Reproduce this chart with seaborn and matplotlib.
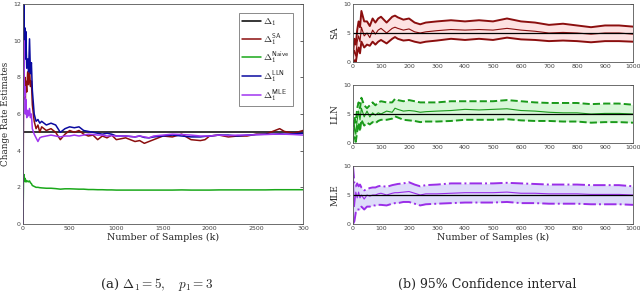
import numpy as np
import pandas as pd
import matplotlib
matplotlib.use("Agg")
import matplotlib.pyplot as plt
import seaborn as sns

# ---- left panel data (estimates vs samples) ----
k_left = [0, 5, 10, 15, 20, 25, 30, 40, 50, 60, 70, 80, 90, 100, 120, 140, 160, 180, 200,
          250, 300, 350, 400, 450, 500, 550, 600, 650, 700, 750, 800, 850, 900, 950, 1000,
          1100, 1200, 1250, 1300, 1350, 1400, 1500, 1600, 1700, 1800, 1900, 1950, 2000,
          2100, 2200, 2300, 2400, 2500, 2600, 2700, 2750, 2800, 2900, 3000]
true_delta = [5, 5]
true_k = [0, 3000]
est_sa = [0, 6.5, 9.8, 7.0, 8.0, 6.8, 7.8, 7.2, 8.3, 7.6, 8.4, 7.5, 7.8, 6.5, 5.6, 5.2, 5.4, 5.0, 5.3,
          5.1, 5.2, 5.0, 4.6, 4.9, 5.1, 5.0, 5.1, 4.9, 4.8, 4.85, 4.6, 4.8, 4.7, 4.85, 4.6,
          4.7, 4.5, 4.55, 4.4, 4.5, 4.6, 4.8, 4.75, 4.9, 4.6, 4.55, 4.6, 4.8,
          4.85, 4.75, 4.8, 4.8, 4.9, 4.9, 5.1, 5.2, 5.05, 4.95, 5.1]
est_naive = [0, 2.2, 2.7, 2.4, 2.5, 2.3, 2.4, 2.3, 2.35, 2.3, 2.35, 2.25, 2.2, 2.1, 2.05, 2.0, 2.0, 1.98, 1.97,
             1.95, 1.95, 1.93, 1.9, 1.92, 1.92, 1.91, 1.9, 1.9, 1.88, 1.88, 1.87, 1.87, 1.86, 1.86, 1.85,
             1.85, 1.85, 1.85, 1.85, 1.85, 1.85, 1.85, 1.85, 1.86, 1.85, 1.85, 1.85, 1.85,
             1.86, 1.86, 1.86, 1.86, 1.86, 1.86, 1.87, 1.87, 1.87, 1.87, 1.87]
est_lln = [0, 9.0, 12.0, 10.0, 10.7, 9.0, 10.5, 8.5, 9.0, 8.3, 10.1, 8.2, 8.8, 7.3, 6.0, 5.6, 5.7, 5.5, 5.6,
           5.4, 5.5, 5.4, 5.0, 5.2, 5.3, 5.25, 5.3, 5.1, 5.05, 5.0, 4.95, 4.9, 4.95, 4.9, 4.8,
           4.8, 4.75, 4.8, 4.72, 4.7, 4.75, 4.8, 4.85, 4.8, 4.75, 4.75, 4.78, 4.8,
           4.85, 4.85, 4.8, 4.85, 4.88, 4.9, 4.9, 4.92, 4.9, 4.92, 4.95]
est_mle = [0, 8.5, 10.0, 7.0, 7.5, 6.0, 6.8, 5.8, 6.2, 5.9, 6.3, 5.8, 6.0, 5.2, 4.9, 4.7, 4.5, 4.7, 4.75,
           4.8, 4.85, 4.8, 4.75, 4.8, 4.8, 4.85, 4.8, 4.85, 4.9, 4.88, 4.85, 4.85, 4.8, 4.82, 4.8,
           4.8, 4.75, 4.8, 4.75, 4.7, 4.8, 4.85, 4.9, 4.88, 4.85, 4.8, 4.8, 4.8,
           4.85, 4.82, 4.85, 4.85, 4.87, 4.88, 4.9, 4.9, 4.9, 4.88, 4.85]

# ---- right panels data (confidence intervals) ----
k_right = [0, 5, 10, 15, 20, 25, 30, 40, 50, 60, 70, 80, 90, 100, 120, 140, 150, 160, 180, 200,
           220, 240, 260, 300, 350, 400, 450, 500, 550, 600, 650, 700, 750, 800, 850, 900, 950, 1000]
sa_mean = [0.5, 2.0, 1.0, 3.5, 4.5, 3.5, 6.0, 4.5, 5.0, 4.2, 5.5, 4.8, 5.5, 5.8, 5.0, 5.8, 6.0, 5.8, 5.5, 5.7,
           5.2, 5.0, 5.2, 5.4, 5.6, 5.5, 5.6, 5.5, 5.8, 5.5, 5.3, 5.0, 5.1, 5.0, 4.8, 5.0, 5.0, 4.8]
sa_upper = [1.5, 4.0, 3.0, 5.5, 7.0, 6.0, 8.8, 7.0, 7.0, 6.2, 7.5, 6.8, 7.5, 7.8, 6.8, 7.8, 8.0, 7.7, 7.3, 7.5,
            6.8, 6.5, 6.8, 7.0, 7.2, 7.0, 7.2, 7.0, 7.5, 7.0, 6.8, 6.4, 6.6, 6.3, 6.0, 6.3, 6.3, 6.1]
sa_lower = [0, 0.3, 0, 1.5, 2.5, 1.5, 3.5, 2.5, 3.0, 2.8, 3.5, 3.0, 3.5, 3.8, 3.2, 4.0, 4.3, 4.0, 3.7, 3.8,
            3.5, 3.3, 3.5, 3.7, 4.0, 3.8, 4.0, 3.8, 4.2, 3.9, 3.8, 3.6, 3.7, 3.6, 3.4, 3.6, 3.6, 3.5]
lln_mean = [0.5, 3.0, 1.5, 4.0, 5.5, 4.0, 6.0, 4.5, 5.5, 4.5, 5.2, 4.8, 5.2, 5.0, 5.5, 5.3, 6.0, 5.8, 5.5, 5.6,
            5.5, 5.3, 5.4, 5.5, 5.6, 5.8, 5.7, 5.8, 5.9, 5.6, 5.5, 5.3, 5.2, 5.2, 5.0, 5.1, 5.1, 5.0]
lln_upper = [1.0, 4.5, 3.5, 6.0, 7.0, 6.0, 7.8, 6.5, 6.0, 6.5, 7.0, 6.5, 7.0, 7.2, 7.0, 7.0, 7.6, 7.4, 7.2, 7.4,
             7.2, 7.0, 7.0, 7.0, 7.2, 7.2, 7.2, 7.2, 7.4, 7.2, 7.0, 6.9, 6.9, 6.9, 6.7, 6.8, 6.8, 6.6]
lln_lower = [0, 1.0, 0.2, 2.0, 3.5, 2.0, 4.0, 3.0, 3.5, 3.2, 3.6, 3.4, 3.8, 4.0, 4.0, 4.2, 4.6, 4.4, 4.0, 3.9,
             3.8, 3.6, 3.7, 3.7, 3.8, 4.0, 4.0, 4.0, 4.1, 3.9, 3.8, 3.8, 3.7, 3.7, 3.5, 3.6, 3.6, 3.5]
mle_mean = [9.0, 3.0, 5.5, 4.5, 5.5, 4.5, 5.0, 4.3, 5.0, 4.8, 5.0, 5.0, 5.2, 5.3, 5.0, 5.3, 5.4, 5.4, 5.5, 5.6,
            5.3, 5.0, 5.2, 5.2, 5.3, 5.4, 5.4, 5.4, 5.5, 5.3, 5.3, 5.2, 5.2, 5.2, 5.1, 5.1, 5.1, 5.0]
mle_upper = [10, 7.0, 6.5, 7.0, 6.5, 6.8, 6.3, 5.8, 6.0, 6.2, 6.3, 6.3, 6.5, 6.6, 6.4, 6.7, 6.8, 6.9, 7.0, 7.2,
             6.8, 6.5, 6.7, 6.8, 7.0, 7.0, 7.0, 7.0, 7.1, 7.0, 6.9, 6.8, 6.8, 6.8, 6.7, 6.7, 6.7, 6.5]
mle_lower = [0, 0.5, 2.0, 2.5, 2.5, 2.5, 3.0, 2.5, 3.0, 3.0, 3.2, 3.2, 3.3, 3.3, 3.2, 3.5, 3.6, 3.6, 3.8, 3.8,
             3.5, 3.2, 3.4, 3.5, 3.6, 3.7, 3.7, 3.7, 3.8, 3.6, 3.6, 3.5, 3.5, 3.5, 3.4, 3.4, 3.4, 3.3]

sns.set_theme(style="white")
plt.rcParams['mathtext.fontset'] = 'cm'
serif = 'DejaVu Serif'

fig = plt.figure(figsize=(6.4, 2.92), dpi=100)


def style_axes(ax):
    ax.tick_params(direction='in', length=2, labelsize=4.5, labelcolor='#444444',
                   top=False, right=True, pad=1.5, width=0.5)
    for s in ax.spines.values():
        s.set_color('#555555')
        s.set_linewidth(0.6)


# ---- left plot ----
axl = fig.add_axes([23 / 640, 1 - 224 / 292, 280 / 640, 220 / 292])
left_series = [
    (true_k, true_delta, 'black', r'$\Delta_1$'),
    (k_left, est_sa, '#8b0e0e', r'$\Delta_1^{\mathsf{SA}}$'),
    (k_left, est_naive, '#1aa81a', r'$\Delta_1^{\mathsf{Naive}}$'),
    (k_left, est_lln, '#0a0aa0', r'$\Delta_1^{\mathsf{LLN}}$'),
    (k_left, est_mle, '#a035f0', r'$\Delta_1^{\mathsf{MLE}}$'),
]
for xs, ys, col, lab in left_series:
    sns.lineplot(x=xs, y=ys, ax=axl, color=col, lw=1.1, label=lab, estimator=None, sort=False)
axl.set_xlim(0, 3000)
axl.set_ylim(0, 12)
axl.set_xticks(np.arange(0, 3001, 500))
axl.set_xticklabels(['0', '500', '1000', '1500', '2000', '2500', '300'])
axl.set_yticks(np.arange(0, 13, 2))
axl.set_xlabel('Number of Samples (k)', family=serif, fontsize=6.8, labelpad=1)
axl.set_ylabel('Change Rate Estimates', family=serif, fontsize=6.3, labelpad=2)
style_axes(axl)
leg = axl.legend(loc='upper right', fontsize=7, frameon=True, fancybox=False,
                 edgecolor='#555555', handlelength=2.0, labelspacing=0.3,
                 borderpad=0.3, handletextpad=0.2, bbox_to_anchor=(0.98, 0.98))
leg.get_frame().set_linewidth(0.6)

# ---- right plots ----
panels = [
    ('SA', sa_mean, sa_lower, sa_upper, '#8b0e0e', '#fde2e2', '-', 4),
    ('LLN', lln_mean, lln_lower, lln_upper, '#1a9a1a', '#d9f7d9', '--', 85),
    ('MLE', mle_mean, mle_lower, mle_upper, '#9a2ee8', '#dedcfa', '-.', 166),
]
for name, mean, lo, hi, col, fill, ls, top in panels:
    ax = fig.add_axes([353 / 640, 1 - (top + 58) / 292, 280 / 640, 58 / 292])
    ax.fill_between(k_right, lo, hi, color=fill, lw=0)
    sns.lineplot(x=k_right, y=hi, ax=ax, color=col, lw=1.4, linestyle=ls, estimator=None)
    sns.lineplot(x=k_right, y=lo, ax=ax, color=col, lw=1.4, linestyle=ls, estimator=None)
    sns.lineplot(x=k_right, y=mean, ax=ax, color=col, lw=0.8, estimator=None)
    sns.lineplot(x=[0, 1000], y=[5, 5], ax=ax, color='black', lw=0.9, estimator=None)
    ax.set_xlim(0, 1000)
    ax.set_ylim(0, 10)
    ax.set_xticks(np.arange(0, 1001, 100))
    ax.set_yticks([0, 5, 10])
    ax.set_ylabel(name, family=serif, fontsize=6.5, labelpad=3)
    style_axes(ax)
    if name == 'MLE':
        ax.set_xlabel('Number of Samples (k)', family=serif, fontsize=6.8, labelpad=1)

fig.text(157 / 640, 1 - 288 / 292, r'(a) $\Delta_1 = 5, \quad p_1 = 3$', ha='center', va='baseline',
         fontsize=9.5, family=serif)
fig.text(487 / 640, 1 - 288 / 292, '(b) 95% Confidence interval', ha='center', va='baseline',
         fontsize=9, family=serif)

fig.savefig('out.png', dpi=100)
